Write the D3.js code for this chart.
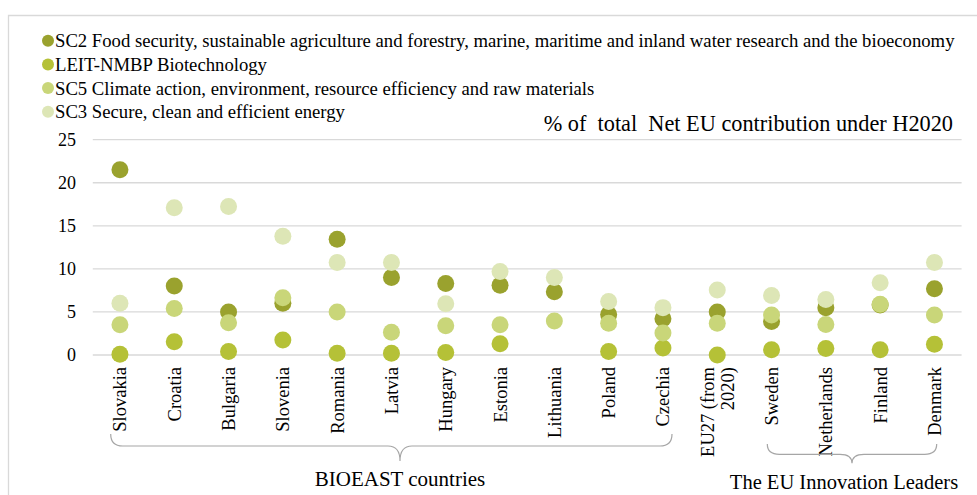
<!DOCTYPE html>
<meta charset="utf-8">
<style>
body { margin: 0; background: #fff; }
text { font-family: "Liberation Serif", "Times New Roman", serif; fill: #000; }
.grid line { stroke: #d9d9d9; stroke-width: 1.3; }
.brace { fill: none; stroke: #a6a6a6; stroke-width: 1.2; }
</style>
<body>
<script src="https://d3js.org/d3.v7.min.js"></script>
<script>
var countries = ["Slovakia", "Croatia", "Bulgaria", "Slovenia", "Romania", "Latvia", "Hungary",
  "Estonia", "Lithuania", "Poland", "Czechia", "EU27 (from 2020)", "Sweden", "Netherlands", "Finland", "Denmark"];

var seriesNames = [
  "SC2 Food security, sustainable agriculture and forestry, marine, maritime and inland water research and the bioeconomy",
  "LEIT-NMBP Biotechnology",
  "SC5 Climate action, environment, resource efficiency and raw materials",
  "SC3 Secure, clean and efficient energy"
];
var seriesColors = ["#9aa22e", "#b5c137", "#c9d679", "#dde6b6"];

var sc2  = [21.5, 8.0, 5.0, 6.0, 13.45, 9.0, 8.3, 8.1, 7.35, 4.7, 4.2, 5.0, 3.9, 5.5, 5.8, 7.7];
var leit = [0.1, 1.55, 0.4, 1.75, 0.2, 0.2, 0.3, 1.3, null, 0.4, 0.8, 0.0, 0.6, 0.75, 0.6, 1.25];
var sc5  = [3.5, 5.4, 3.75, 6.65, 5.0, 2.65, 3.4, 3.5, 3.95, 3.7, 2.55, 3.7, 4.65, 3.55, 5.9, 4.65];
var sc3  = [6.0, 17.1, 17.25, 13.8, 10.75, 10.75, 5.95, 9.7, 9.0, 6.2, 5.5, 7.55, 6.9, 6.45, 8.4, 10.75];

var yTicks = [0, 5, 10, 15, 20, 25];
var groups = [
  {label: "BIOEAST countries", from: "Slovakia", to: "Czechia"},
  {label: "The EU Innovation Leaders", from: "Sweden", to: "Denmark"}
];

var width = 977, height = 495;

var svg = d3.select("body").append("svg")
    .attr("width", width)
    .attr("height", height);

// chart frame
svg.append("path")
    .attr("d", "M8.5," + height + "V15.5H" + width)
    .attr("fill", "none")
    .attr("stroke", "#d9d9d9")
    .attr("stroke-width", 1.3);

var x = d3.scalePoint()
    .domain(countries)
    .range([92.8, 961.6])
    .padding(0.5);

var y = d3.scaleLinear()
    .domain([0, 25])
    .range([355, 139.7]);

// gridlines
svg.append("g")
    .attr("class", "grid")
  .selectAll("line")
    .data(yTicks)
  .enter().append("line")
    .attr("x1", 92.8)
    .attr("x2", 961.6)
    .attr("y1", function(d) { return y(d); })
    .attr("y2", function(d) { return y(d); });

// y axis labels
var yAxis = svg.append("g")
    .attr("transform", "translate(84,0)")
    .call(d3.axisLeft(y).tickValues(yTicks).tickSize(0).tickPadding(8));
yAxis.select(".domain").remove();
yAxis.selectAll("text")
    .style("font-size", "18px")
    .style("font-family", "Liberation Serif, serif");

// dots, drawn in legend order
var series = [sc2, leit, sc5, sc3];
series.forEach(function(vals, si) {
  svg.append("g")
    .selectAll("circle")
      .data(vals.map(function(v, i) { return {c: countries[i], v: v}; })
                .filter(function(d) { return d.v != null; }))
    .enter().append("circle")
      .attr("cx", function(d) { return x(d.c); })
      .attr("cy", function(d) { return y(d.v); })
      .attr("r", 8.5)
      .attr("fill", seriesColors[si]);
});

// category labels (rotated)
var labels = svg.append("g")
  .selectAll("g")
    .data(countries)
  .enter().append("g")
    .attr("transform", function(d) { return "translate(" + x(d) + ",367)"; });

labels.each(function(d) {
  var g = d3.select(this);
  var lines = d == "EU27 (from 2020)" ? ["EU27 (from", "2020)"] : [d];
  lines.forEach(function(t, i) {
    g.append("text")
      .attr("transform", "translate(" + ((i - (lines.length - 1) / 2) * 20) + ",0) rotate(-90)")
      .attr("text-anchor", "end")
      .attr("dy", "0.35em")
      .style("font-size", "18.5px")
      .text(t);
  });
});

// group braces
var braceSpec = [
  {x0: 110.7, x1: 672, top: 434, h: 446, tip: 461, tx: 400, ty: 486, fs: 21},
  {x0: 767.3, x1: 936.7, top: 444, h: 454.3, tip: 463.3, tx: 844, ty: 489, fs: 20.5}
];
groups.forEach(function(g, i) {
  var b = braceSpec[i];
  var mid = (b.x0 + b.x1) / 2;
  if (i == 0) mid = 400;
  var r = 12;
  var p = d3.path();
  p.moveTo(b.x0, b.top);
  p.quadraticCurveTo(b.x0, b.h, b.x0 + r, b.h);
  p.lineTo(mid - r, b.h);
  p.quadraticCurveTo(mid, b.h, mid, b.tip);
  p.quadraticCurveTo(mid, b.h, mid + r, b.h);
  p.lineTo(b.x1 - r, b.h);
  p.quadraticCurveTo(b.x1, b.h, b.x1, b.top);
  svg.append("path")
      .attr("class", "brace")
      .attr("d", p.toString());
  svg.append("text")
      .attr("x", b.tx)
      .attr("y", b.ty)
      .attr("text-anchor", "middle")
      .style("font-size", b.fs + "px")
      .text(g.label);
});

// legend
var legend = svg.append("g")
  .selectAll("g")
    .data(seriesNames)
  .enter().append("g")
    .attr("transform", function(d, i) { return "translate(48," + (40.7 + i * 23.7) + ")"; });

legend.append("circle")
    .attr("r", 6)
    .attr("fill", function(d, i) { return seriesColors[i]; });

legend.append("text")
    .attr("x", 7)
    .attr("dy", "0.35em")
    .style("font-size", "18.7px")
    .text(function(d) { return d; });

// title
svg.append("text")
    .attr("x", 953)
    .attr("y", 131)
    .attr("text-anchor", "end")
    .style("font-size", "22.3px")
    .style("white-space", "pre")
    .text("% of  total  Net EU contribution under H2020");
</script>
</body>
